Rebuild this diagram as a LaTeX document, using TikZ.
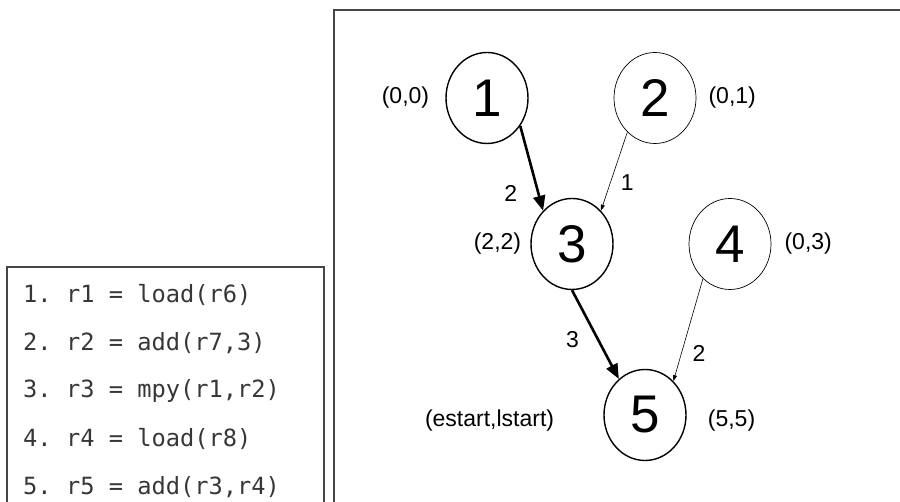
\documentclass[tikz,border=0pt]{standalone}
\usepackage{fontspec}
\setmainfont{Liberation Sans}
\setmonofont{DejaVu Sans Mono}
\usetikzlibrary{arrows.meta,positioning,shapes.geometric}
\definecolor{framegray}{RGB}{70,70,70}
\definecolor{codegray}{RGB}{55,55,55}

\begin{document}
\begin{tikzpicture}[x=1pt,y=1pt,>=Stealth]
\tikzstyle{opnode}=[draw,ellipse,minimum width=82pt,minimum height=91pt,inner sep=0pt,font=\fontsize{53}{53}\selectfont]
\tikzstyle{critnode}=[opnode,line width=1.4pt]
\tikzstyle{slacknode}=[opnode,line width=0.7pt]
\tikzstyle{timelabel}=[font=\fontsize{23}{23}\selectfont,inner sep=0pt]
\tikzstyle{latlabel}=[font=\fontsize{23}{23}\selectfont,inner sep=0pt]
\tikzstyle{critedge}=[-{Triangle[length=15pt,width=12pt]},line width=2.6pt]
\tikzstyle{slackedge}=[-{Triangle[length=6pt,width=4pt]},line width=0.6pt]
\tikzstyle{codeline}=[font=\fontsize{23.7}{23.7}\ttfamily,anchor=west,inner sep=0pt,text=codegray]

\useasboundingbox (0,0) rectangle (900,502);

% frames
\draw[framegray,line width=2pt] (7,-10) rectangle (324,235);
\draw[framegray,line width=2pt] (334,-10) rectangle (910,492);

% instruction list
\foreach \i/\txt in {1/{1. r1 = load(r6)},2/{2. r2 = add(r7,3)},3/{3. r3 = mpy(r1,r2)},4/{4. r4 = load(r8)},5/{5. r5 = add(r3,r4)}}
  \node[codeline] (ins\i) at (23,255-48*\i) {\txt};

% dependence graph
\node[critnode] (n1) at (487,404) {1};
\node[slacknode] (n2) at (655,404) {2};
\node[critnode] (n3) at (572,258) {3};
\node[slacknode] (n4) at (730,258) {4};
\node[critnode] (n5) at (645,87) {5};

\node[timelabel,left=16pt of n1] (t1) {(0,0)};
\node[timelabel,right=12pt of n2] (t2) {(0,1)};
\node[timelabel,left=9pt of n3] (t3) {(2,2)};
\node[timelabel,right=13pt of n4] (t4) {(0,3)};
\node[timelabel,left=49pt of n5,yshift=-6pt] (t5) {(estart,lstart)};
\node[timelabel,right=21pt of n5,yshift=-6pt] (t6) {(5,5)};

\draw[critedge] (n1.-40) -- node[latlabel,pos=0.8,left=20pt] (l13) {2} (n3.131);
\draw[slackedge] (n2.-129) -- node[latlabel,pos=0.64,right=10pt] (l23) {1} (n3.49);
\draw[critedge] (n3.-90) -- node[latlabel,pos=0.56,left=18pt] (l35) {3} (n5.126);
\draw[slackedge] (n4.-128) -- node[latlabel,pos=0.73,right=11pt] (l45) {2} (n5.50);
\end{tikzpicture}
\end{document}
